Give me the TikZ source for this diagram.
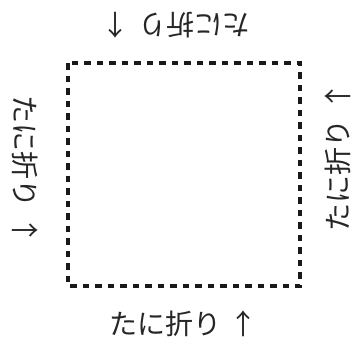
\documentclass[tikz,border=0pt]{standalone}
\usepackage{fontspec}
\newfontfamily\jp{Noto Sans CJK JP}
\begin{document}
\begin{tikzpicture}[x=1pt,y=-1pt,
  fold/.style={font=\jp\fontsize{28}{28}\selectfont, inner sep=0pt, text=black!85},
  edge/.style={draw=black!90, line width=4.5pt, dash pattern=on 6.5pt off 6pt}]
\useasboundingbox (0,0) rectangle (358,343);
\coordinate (tl) at (68,63);
\coordinate (br) at (300,286);
\draw[edge] (tl) rectangle (br);
\node[fold] (bottom) at (183.5,324) {たに折り\hspace{9pt}↑};
\node[fold, rotate=180] (top) at (176,25) {たに折り\hspace{9pt}↑};
\node[fold, rotate=-90] (left) at (25,170) {たに折り\hspace{9pt}↑};
\node[fold, rotate=90] (right) at (338,157) {たに折り\hspace{9pt}↑};
\end{tikzpicture}
\end{document}
